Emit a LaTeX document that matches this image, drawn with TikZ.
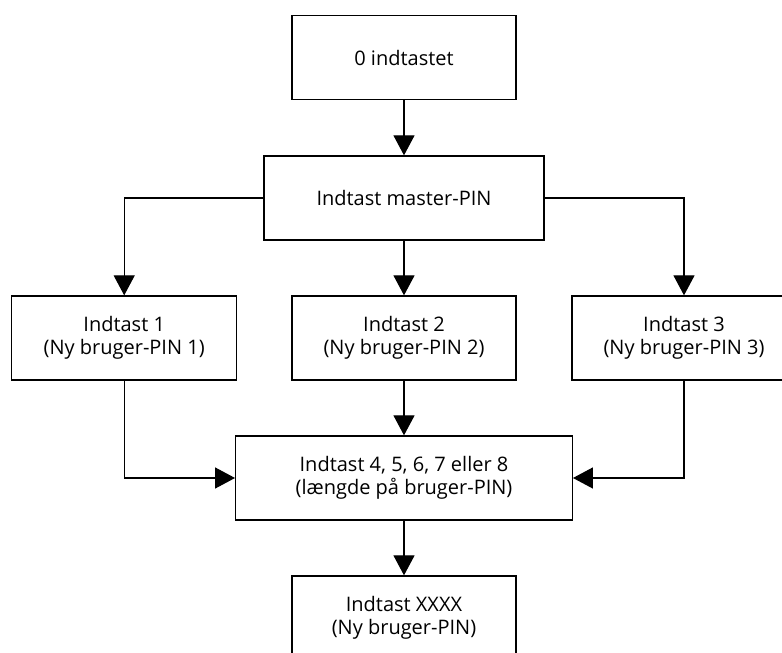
\documentclass[tikz,border=0pt]{standalone}
\usepackage{fontspec}
\setmainfont{Open Sans}
\usetikzlibrary{arrows.meta}
\begin{document}
\begin{tikzpicture}[x=1pt,y=1pt,
  box/.style={draw=black, line width=1.3pt, fill=white, minimum height=84pt, align=center,
    inner sep=0pt, font=\fontsize{20}{23.5}\selectfont},
  arr/.style={line width=1.3pt, -{Triangle[length=20pt,width=21pt]}}]
\useasboundingbox (0,0) rectangle (782,653);
\clip (0,0) rectangle (782,653);
\node[box, minimum width=224pt] (b1) at (404,595.3) {0 indtastet};
\node[box, minimum width=280pt] (b2) at (404,455) {Indtast master-PIN};
\node[box, minimum width=225pt] (b3) at (124.2,315) {Indtast 1\\(Ny bruger-PIN 1)};
\node[box, minimum width=224pt] (b4) at (404,315) {Indtast 2\\(Ny bruger-PIN 2)};
\node[box, minimum width=224pt] (b5) at (684,315) {Indtast 3\\(Ny bruger-PIN 3)};
\node[box, minimum width=336.6pt] (b6) at (404,175) {Indtast 4, 5, 6, 7 eller 8\\(længde på bruger-PIN)};
\node[box, minimum width=224pt] (b7) at (404,35) {Indtast XXXX\\(Ny bruger-PIN)};
\draw[arr] (b1.south) -- (b2.north);
\draw[arr] (b2.west) -| (b3.north);
\draw[arr] (b2.south) -- (b4.north);
\draw[arr] (b2.east) -| (b5.north);
\draw[arr] (b3.south) |- (b6.west);
\draw[arr] (b4.south) -- (b6.north);
\draw[arr] (b5.south) |- (b6.east);
\draw[arr] (b6.south) -- (b7.north);
\end{tikzpicture}
\end{document}
